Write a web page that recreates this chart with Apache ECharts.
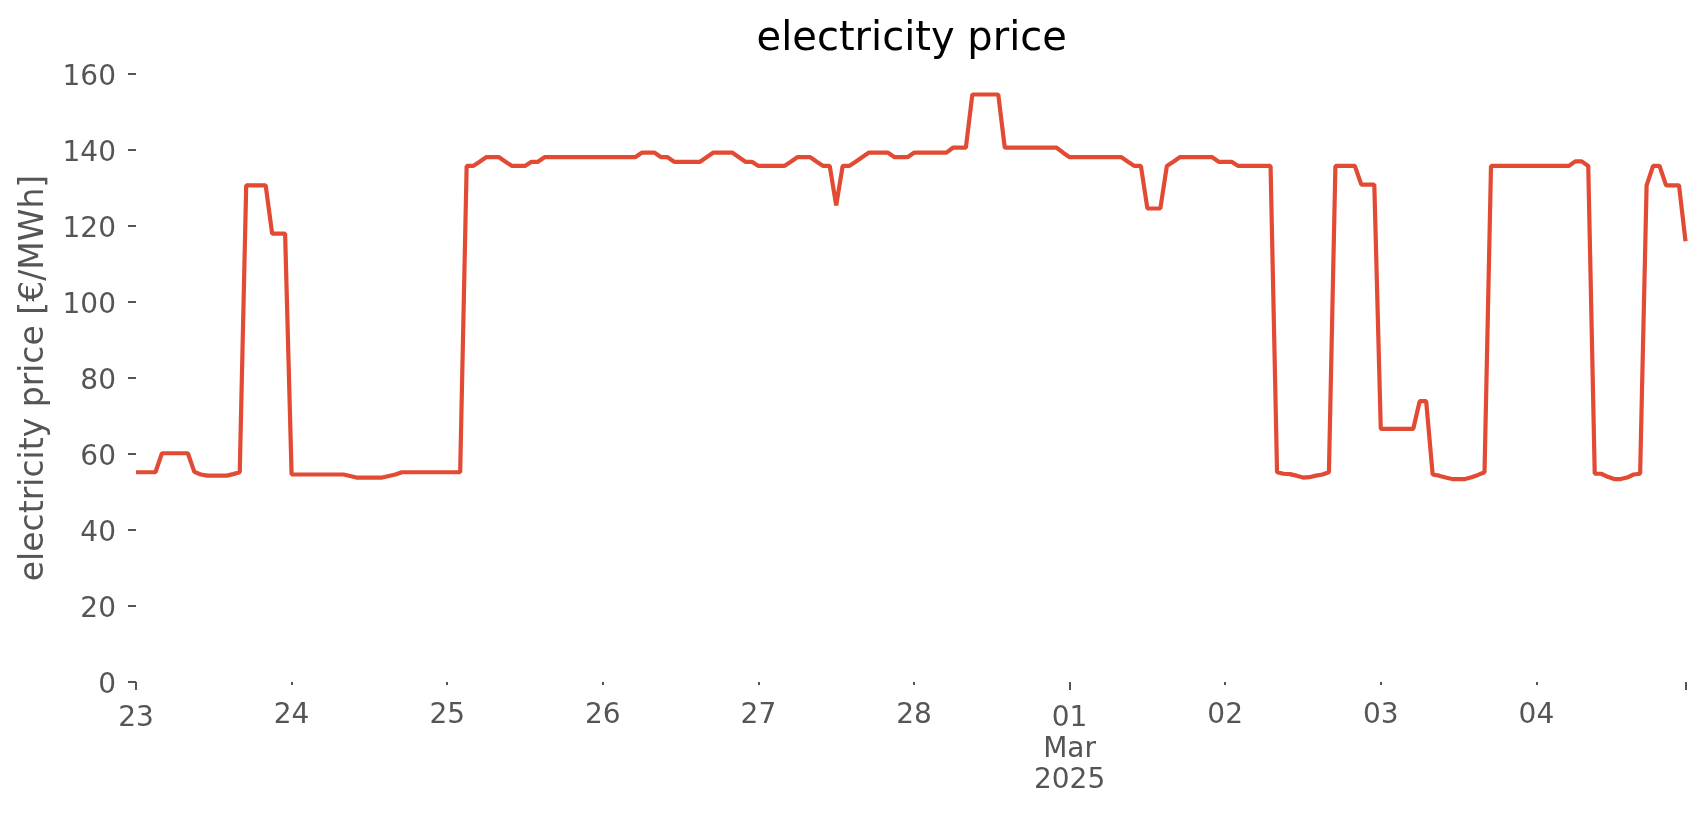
<!DOCTYPE html>
<html>
<head>
<meta charset="utf-8">
<script src="https://cdn.jsdelivr.net/npm/echarts@6.0.0/dist/echarts.min.js"></script>
<style>
  html, body { margin: 0; padding: 0; background: #ffffff; }
  #chart { width: 1706px; height: 815px; }
</style>
</head>
<body>
<div id="chart"></div>
<script>
// ---- data (hourly, starting 2025-02-23 00:00) ----
const startYear = 2025, startMonth = 1, startDay = 23; // Feb 23, 2025 (month is 0-based)
const prices = [
  // Feb 23
  55.2, 55.2, 55.2, 55.2, 60.2, 60.2, 60.2, 60.2, 60.2, 55.3, 54.6, 54.3,
  54.3, 54.3, 54.3, 54.7, 55.2, 130.7, 130.7, 130.7, 130.7, 118.0, 118.0, 118.0,
  // Feb 24
  54.6, 54.6, 54.6, 54.6, 54.6, 54.6, 54.6, 54.6, 54.6, 54.2, 53.8, 53.8,
  53.8, 53.8, 53.8, 54.2, 54.6, 55.2, 55.2, 55.2, 55.2, 55.2, 55.2, 55.2,
  // Feb 25
  55.2, 55.2, 55.2, 135.8, 135.8, 136.9, 138.1, 138.1, 138.1, 136.9, 135.8, 135.8,
  135.8, 136.9, 136.9, 138.1, 138.1, 138.1, 138.1, 138.1, 138.1, 138.1, 138.1, 138.1,
  // Feb 26
  138.1, 138.1, 138.1, 138.1, 138.1, 138.1, 139.3, 139.3, 139.3, 138.1, 138.1, 136.9,
  136.9, 136.9, 136.9, 136.9, 138.1, 139.3, 139.3, 139.3, 139.3, 138.1, 136.9, 136.9,
  // Feb 27
  135.8, 135.8, 135.8, 135.8, 135.8, 136.9, 138.1, 138.1, 138.1, 136.9, 135.8, 135.8,
  125.4, 135.8, 135.8, 136.9, 138.1, 139.3, 139.3, 139.3, 139.3, 138.1, 138.1, 138.1,
  // Feb 28
  139.3, 139.3, 139.3, 139.3, 139.3, 139.3, 140.6, 140.6, 140.6, 154.6, 154.6, 154.6,
  154.6, 154.6, 140.6, 140.6, 140.6, 140.6, 140.6, 140.6, 140.6, 140.6, 140.6, 139.3,
  // Mar 01
  138.1, 138.1, 138.1, 138.1, 138.1, 138.1, 138.1, 138.1, 138.1, 136.9, 135.8, 135.8,
  124.6, 124.6, 124.6, 135.8, 136.9, 138.1, 138.1, 138.1, 138.1, 138.1, 138.1, 136.9,
  // Mar 02
  136.9, 136.9, 135.8, 135.8, 135.8, 135.8, 135.8, 135.8, 55.2, 54.8, 54.7, 54.3,
  53.8, 53.9, 54.3, 54.6, 55.2, 135.8, 135.8, 135.8, 135.8, 130.9, 130.9, 130.9,
  // Mar 03
  66.6, 66.6, 66.6, 66.6, 66.6, 66.6, 73.9, 73.9, 54.6, 54.3, 53.8, 53.4,
  53.4, 53.4, 53.9, 54.5, 55.2, 135.8, 135.8, 135.8, 135.8, 135.8, 135.8, 135.8,
  // Mar 04
  135.8, 135.8, 135.8, 135.8, 135.8, 135.8, 137.0, 137.0, 135.8, 54.8, 54.8, 54.0,
  53.4, 53.4, 53.8, 54.6, 54.8, 130.7, 135.8, 135.8, 130.7, 130.7, 130.7, 116.0
];
const majorTickDays = [0, 6];
const majorTickLabels = ['23', '01\nMar\n2025'];
const minorTickDays = [1, 2, 3, 4, 5, 7, 8, 9];
const minorTickLabels = ['24', '25', '26', '27', '28', '02', '03', '04'];
const yTicks = { min: 0, max: 160, interval: 20 };

// ---- build ----
const HOUR = 3600000;
const t0 = new Date(startYear, startMonth, startDay, 0, 0, 0).getTime();
const tEnd = t0 + (prices.length - 1) * HOUR;
const seriesData = prices.map((v, i) => [t0 + i * HOUR, v]);
const dayTs = d => new Date(startYear, startMonth, startDay + d, 0, 0, 0).getTime();
const majorVals = majorTickDays.map(dayTs);
const minorVals = minorTickDays.map(dayTs);
const labelMap = new Map();
majorVals.forEach((t, i) => labelMap.set(t, majorTickLabels[i]));
minorVals.forEach((t, i) => labelMap.set(t, minorTickLabels[i]));
const fmt = v => {
  for (const [k, s] of labelMap) { if (Math.abs(k - v) < 1000) return s; }
  return '';
};

const FONT = 'DejaVu Sans';
const TICKC = '#555555';
const GRID = { left: 136, right: 20.5, top: 74, bottom: 133 };
const plotCenterX = GRID.left + (1706 - GRID.left - GRID.right) / 2;

const chart = echarts.init(document.getElementById('chart'), null, { renderer: 'canvas' });
chart.setOption({
  backgroundColor: '#ffffff',
  animation: false,
  title: {
    text: 'electricity price',
    left: plotCenterX - 4,
    textAlign: 'center',
    top: 15,
    textStyle: { fontFamily: FONT, fontSize: 40, fontWeight: 'normal', color: '#000000' }
  },
  grid: Object.assign({ containLabel: false }, GRID),
  xAxis: [
    {
      type: 'value', min: t0, max: tEnd, position: 'bottom', scale: true,
      axisLine: { show: false },
      splitLine: { show: false },
      axisTick: { show: true, length: 8, lineStyle: { color: TICKC, width: 2 },
                  customValues: majorVals.concat([tEnd]) },
      axisLabel: { show: true, customValues: majorVals, formatter: fmt,
                   fontFamily: FONT, fontSize: 28, color: TICKC, lineHeight: 31, margin: 21 }
    },
    {
      type: 'value', min: t0, max: tEnd, position: 'bottom', scale: true,
      axisLine: { show: false },
      splitLine: { show: false },
      axisTick: { show: true, length: 3, lineStyle: { color: TICKC, width: 2 },
                  customValues: minorVals },
      axisLabel: { show: true, customValues: minorVals, formatter: fmt,
                   fontFamily: FONT, fontSize: 28, color: TICKC, lineHeight: 31, margin: 18 }
    }
  ],
  yAxis: {
    type: 'value', min: yTicks.min, max: yTicks.max, interval: yTicks.interval,
    name: 'electricity price [€/MWh]',
    nameLocation: 'middle',
    nameGap: 85,
    nameTextStyle: { fontFamily: FONT, fontSize: 33, color: TICKC },
    axisLine: { show: false },
    splitLine: { show: false },
    axisTick: { show: true, length: 8, lineStyle: { color: TICKC, width: 2 } },
    axisLabel: { fontFamily: FONT, fontSize: 28, color: TICKC, margin: 20,
                 verticalAlign: 'top', lineHeight: 7 }
  },
  series: [{
    type: 'line',
    xAxisIndex: 0,
    data: seriesData,
    showSymbol: false,
    symbol: 'none',
    lineStyle: { color: '#E24A33', width: 4.2 },
    clip: true
  }]
});
</script>
</body>
</html>
